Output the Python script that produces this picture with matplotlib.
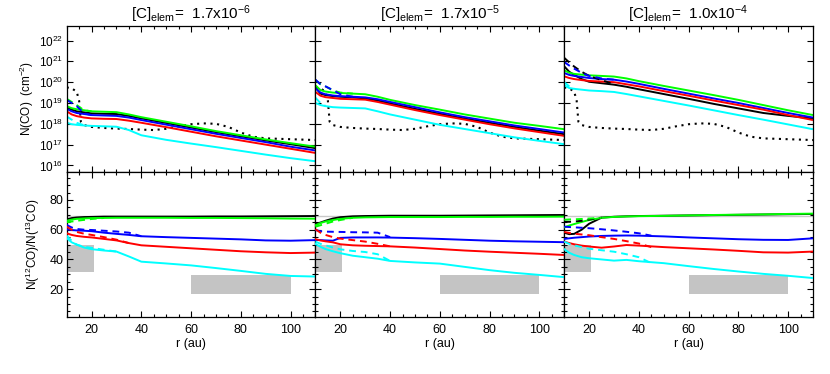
import numpy as np
import matplotlib
matplotlib.use("Agg")
import matplotlib.pyplot as plt
from matplotlib.ticker import MultipleLocator, FixedLocator, LogFormatterMathtext, NullLocator

plt.rcParams['font.family'] = ['Liberation Sans', 'DejaVu Sans']
plt.rcParams['mathtext.fontset'] = 'custom'
plt.rcParams['mathtext.rm'] = 'Liberation Sans'
plt.rcParams['mathtext.it'] = 'Liberation Sans:italic'

# ---------------- data ----------------
titles = ["[C]$_{\\rm elem}$=  1.7x10$^{-6}$",
          "[C]$_{\\rm elem}$=  1.7x10$^{-5}$",
          "[C]$_{\\rm elem}$=  1.0x10$^{-4}$"]

r = [10, 12, 14, 17, 20, 25, 30, 35, 40, 50, 60, 70, 80, 90, 100, 110]
r_dash = [10, 12, 14, 17, 20, 25, 30, 35, 40, 45]

# observed N(CO) profile (dotted), log10 cm^-2
r_obs = [10, 12, 14, 15, 15.7, 17, 20, 25, 30, 35, 40, 45, 50, 55, 60, 65, 70, 75, 80, 85, 90, 100, 110]
logn_obs = [19.75, 19.7, 19.55, 19.1, 18.1, 17.94, 17.85, 17.8, 17.77, 17.75, 17.72, 17.7, 17.76, 17.88,
            17.98, 18.02, 18.0, 17.85, 17.58, 17.38, 17.3, 17.26, 17.22]

# log10 N(CO), panel 1
logn1_black = [18.8, 18.68, 18.6, 18.55, 18.5, 18.48, 18.47, 18.38, 18.26, 18.04, 17.82, 17.6, 17.4, 17.2, 17.02, 16.83]
logn1_green = [18.85, 18.75, 18.7, 18.65, 18.6, 18.58, 18.56, 18.45, 18.32, 18.1, 17.88, 17.65, 17.45, 17.25, 17.07, 16.9]
logn1_blue = [18.72, 18.6, 18.52, 18.47, 18.42, 18.4, 18.38, 18.3, 18.18, 17.96, 17.74, 17.52, 17.32, 17.12, 16.9, 16.72]
logn1_red = [18.6, 18.45, 18.37, 18.3, 18.26, 18.24, 18.23, 18.15, 18.05, 17.84, 17.62, 17.4, 17.2, 17.0, 16.8, 16.6]
logn1_cyan = [18.05, 17.98, 17.95, 17.92, 17.9, 17.88, 17.86, 17.7, 17.45, 17.23, 17.05, 16.88, 16.7, 16.52, 16.35, 16.2]
logn1_green_d = [19.2, 19.05, 18.9, 18.65, 18.6]
logn1_blue_d = [19.15, 19.0, 18.85, 18.5, 18.42]
logn1_cyan_d = [18.35, 18.2, 18.05, 17.93]

# log10 N(CO), panel 2
logn2_black = [19.75, 19.45, 19.38, 19.33, 19.3, 19.27, 19.22, 19.12, 18.98, 18.72, 18.48, 18.25, 18.05, 17.85, 17.67, 17.5]
logn2_green = [19.85, 19.62, 19.55, 19.5, 19.48, 19.45, 19.42, 19.3, 19.15, 18.9, 18.68, 18.45, 18.25, 18.05, 17.9, 17.74]
logn2_blue = [19.7, 19.5, 19.42, 19.36, 19.33, 19.3, 19.27, 19.18, 19.05, 18.8, 18.55, 18.32, 18.12, 17.92, 17.75, 17.58]
logn2_red = [19.53, 19.35, 19.28, 19.24, 19.2, 19.18, 19.16, 19.05, 18.92, 18.66, 18.42, 18.2, 17.98, 17.78, 17.6, 17.42]
logn2_cyan = [19.0, 18.9, 18.85, 18.8, 18.78, 18.76, 18.74, 18.6, 18.45, 18.2, 17.95, 17.75, 17.55, 17.35, 17.18, 17.02]
logn2_green_d = [20.1, 19.9, 19.8, 19.6, 19.5, 19.45]
logn2_blue_d = [20.12, 19.9, 19.8, 19.62, 19.42, 19.3]
logn2_cyan_d = [19.25, 19.0, 18.86]

# log10 N(CO), panel 3
logn3_black = [20.76, 20.5, 20.35, 20.15, 20.02, 19.95, 19.88, 19.78, 19.66, 19.43, 19.2, 18.96, 18.74, 18.52, 18.38, 18.26]
logn3_green = [20.57, 20.45, 20.4, 20.36, 20.33, 20.3, 20.27, 20.18, 20.05, 19.82, 19.6, 19.38, 19.15, 18.9, 18.65, 18.42]
logn3_blue = [20.44, 20.35, 20.3, 20.25, 20.2, 20.15, 20.12, 20.03, 19.92, 19.68, 19.45, 19.22, 19.0, 18.76, 18.52, 18.3]
logn3_red = [20.28, 20.2, 20.15, 20.1, 20.06, 20.03, 20.0, 19.9, 19.8, 19.57, 19.35, 19.12, 18.9, 18.68, 18.42, 18.18]
logn3_cyan = [19.85, 19.72, 19.68, 19.64, 19.6, 19.57, 19.53, 19.43, 19.32, 19.1, 18.88, 18.65, 18.42, 18.2, 17.97, 17.74]
logn3_black_d = [21.17, 20.95, 20.75, 20.5, 20.3, 20.1, 19.9]
logn3_blue_d = [20.97, 20.8, 20.65, 20.45, 20.3, 20.18, 20.12]
logn3_cyan_d = [20.0, 19.8, 19.68]

# 12CO/13CO ratio, panel 1
rat1_black = [67.0, 67.8, 68.2, 68.5, 68.6, 68.8, 68.8, 68.8, 68.8, 68.8, 68.8, 68.9, 68.9, 69.0, 69.1, 69.2]
rat1_green = [66.0, 66.8, 67.3, 67.6, 67.8, 67.9, 68.0, 68.0, 68.0, 68.0, 67.9, 67.9, 67.8, 67.7, 67.5, 67.4]
rat1_blue = [60.3, 59.8, 59.5, 59.3, 59.0, 58.0, 57.2, 56.5, 55.6, 55.0, 54.5, 54.0, 53.5, 52.8, 52.6, 53.0]
rat1_red = [57.6, 56.5, 55.8, 55.2, 54.8, 53.8, 52.8, 51.0, 49.5, 48.5, 47.5, 46.5, 45.5, 44.8, 44.3, 44.6]
rat1_cyan = [54.3, 51.5, 50.0, 48.0, 46.9, 46.0, 45.3, 42.0, 38.5, 37.3, 36.0, 34.2, 32.3, 30.3, 28.9, 28.5]
rat1_green_d = [65.0, 65.5, 66.0, 66.6, 67.2, 67.9]
rat1_blue_d = [63.2, 61.5, 60.5, 60.0, 59.8, 59.3, 58.8, 58.0, 55.6]
rat1_red_d = [62.0, 60.0, 58.5, 57.3, 56.5, 55.0, 53.3, 51.0]
rat1_cyan_d = [56.0, 52.5, 50.0, 48.5, 47.8, 46.5, 45.3]

# 12CO/13CO ratio, panel 2
rat2_black = [63.9, 64.8, 66.0, 67.5, 68.4, 69.0, 69.2, 69.3, 69.4, 69.4, 69.4, 69.5, 69.6, 69.7, 69.8, 69.9]
rat2_green = [63.0, 64.5, 65.5, 66.5, 67.3, 68.0, 68.3, 68.4, 68.5, 68.5, 68.5, 68.6, 68.6, 68.7, 68.7, 68.8]
rat2_blue = [53.1, 53.0, 52.8, 52.6, 54.5, 54.8, 54.8, 54.8, 54.7, 54.3, 53.8, 53.2, 52.6, 52.2, 51.9, 51.6]
rat2_red = [53.6, 52.8, 52.2, 51.5, 50.2, 49.5, 49.2, 49.0, 48.8, 48.0, 47.0, 46.0, 45.2, 44.5, 43.8, 43.0]
rat2_cyan = [50.4, 48.5, 47.0, 45.5, 44.2, 42.5, 41.5, 40.5, 39.0, 38.0, 37.2, 35.0, 32.8, 31.0, 29.6, 28.1]
rat2_green_d = [62.0, 63.0, 64.0, 65.5, 66.5, 68.0]
rat2_blue_d = [59.8, 59.0, 58.7, 58.6, 58.5, 58.3, 58.2, 58.0, 55.0]
rat2_red_d = [60.3, 58.0, 56.5, 55.0, 54.0, 53.0, 52.0, 50.5, 48.8]
rat2_cyan_d = [52.0, 50.5, 49.5, 48.0, 46.8, 45.7, 45.0, 43.5, 39.0]

# 12CO/13CO ratio, panel 3
rat3_black = [58.0, 57.0, 57.2, 60.0, 64.0, 68.1, 68.7, 69.0, 69.2, 69.4, 69.6, 69.8, 70.0, 70.2, 70.4, 70.6]
rat3_green = [61.6, 62.8, 63.8, 65.2, 66.5, 68.0, 68.6, 68.9, 69.1, 69.3, 69.6, 69.9, 70.1, 70.3, 70.6, 70.8]
rat3_blue = [53.8, 54.2, 54.6, 55.0, 55.4, 55.8, 56.0, 56.1, 56.0, 55.5, 54.8, 54.2, 53.6, 53.2, 53.1, 54.2]
rat3_red = [52.0, 51.0, 50.2, 49.3, 48.7, 47.9, 48.7, 49.7, 49.3, 48.3, 47.5, 46.7, 45.8, 44.8, 44.6, 45.3]
rat3_cyan = [46.9, 44.5, 43.0, 41.5, 40.8, 40.0, 39.2, 39.7, 38.8, 37.5, 35.5, 33.6, 31.9, 30.3, 29.0, 27.5]
rat3_black_d = [65.4, 65.3, 65.5, 66.0, 66.8, 68.1]
rat3_green_d = [66.7, 66.9, 67.0, 67.2, 67.5, 68.0]
rat3_blue_d = [62.0, 61.8, 61.6, 61.3, 61.0, 60.3, 59.5, 58.6, 57.6, 56.0]
rat3_red_d = [58.5, 57.8, 57.3, 56.8, 56.3, 55.0, 53.8, 52.3, 50.7, 48.3]
rat3_cyan_d = [52.0, 50.5, 49.5, 48.3, 47.2, 46.2, 45.2, 43.5, 41.5, 37.5]

# observational constraint boxes (r_min, r_max, ratio_min, ratio_max)
box_inner = (10, 20.8, 31.6, 49.5)
box_outer = (60, 100, 16.8, 29.5)
ism_ratio = 69

colors = {'black': 'black', 'green': '#00ff00', 'blue': '#0000ff', 'red': '#ff0000', 'cyan': '#00ffff'}
order = ['black', 'green', 'blue', 'red', 'cyan']

top_solid = [
    [logn1_black, logn1_green, logn1_blue, logn1_red, logn1_cyan],
    [logn2_black, logn2_green, logn2_blue, logn2_red, logn2_cyan],
    [logn3_black, logn3_green, logn3_blue, logn3_red, logn3_cyan],
]
top_dash = [
    [('green', logn1_green_d), ('blue', logn1_blue_d), ('cyan', logn1_cyan_d)],
    [('green', logn2_green_d), ('blue', logn2_blue_d), ('cyan', logn2_cyan_d)],
    [('black', logn3_black_d), ('blue', logn3_blue_d), ('cyan', logn3_cyan_d)],
]
bot_solid = [
    [rat1_black, rat1_green, rat1_blue, rat1_red, rat1_cyan],
    [rat2_black, rat2_green, rat2_blue, rat2_red, rat2_cyan],
    [rat3_black, rat3_green, rat3_blue, rat3_red, rat3_cyan],
]
bot_dash = [
    [('green', rat1_green_d), ('blue', rat1_blue_d), ('red', rat1_red_d), ('cyan', rat1_cyan_d)],
    [('green', rat2_green_d), ('blue', rat2_blue_d), ('red', rat2_red_d), ('cyan', rat2_cyan_d)],
    [('black', rat3_black_d), ('green', rat3_green_d), ('blue', rat3_blue_d), ('red', rat3_red_d), ('cyan', rat3_cyan_d)],
]

# ---------------- figure ----------------
fig = plt.figure(figsize=(8.3, 3.74), dpi=100)
L, R_, T, M, B = 66.7 / 830, 813 / 830, 1 - 26 / 374, 1 - 171.7 / 374, 1 - 316.7 / 374
W = (R_ - L) / 3
lw = 1.4

def style_axis(ax):
    ax.tick_params(which='both', direction='in', top=True, right=True, width=0.8)
    ax.tick_params(which='major', length=4.5)
    ax.tick_params(which='minor', length=2.5)
    ax.tick_params(axis='x', labelsize=9, pad=5.5)
    ax.tick_params(axis='y', pad=2.5)
    for s in ax.spines.values():
        s.set_linewidth(0.9)

for p in range(3):
    x0 = L + p * W
    axt = fig.add_axes([x0, M, W, T - M])
    axb = fig.add_axes([x0, B, W, M - B])

    # top: N(CO)
    axt.plot(r_obs, 10 ** np.array(logn_obs), color='black', ls=(0, (1, 2.2)), lw=1.5)
    for name, vals in zip(order, top_solid[p]):
        axt.plot(r, 10 ** np.array(vals), color=colors[name], lw=lw, solid_capstyle='butt')
    for name, vals in top_dash[p]:
        axt.plot(r_dash[:len(vals)], 10 ** np.array(vals), color=colors[name], lw=lw,
                 ls=(0, (3.5, 2.5)))
    axt.set_yscale('log')
    axt.set_ylim(5e15, 5e22)
    axt.set_xlim(10, 110)
    axt.yaxis.set_major_locator(FixedLocator([10.0 ** k for k in range(16, 23)]))
    axt.yaxis.set_minor_locator(NullLocator())
    axt.yaxis.set_major_formatter(LogFormatterMathtext())
    axt.xaxis.set_major_locator(MultipleLocator(20))
    axt.xaxis.set_minor_locator(MultipleLocator(5))
    axt.set_xticklabels([])
    style_axis(axt)
    axt.tick_params(axis='y', labelsize=8.5)
    axt.set_title(titles[p], fontsize=11, pad=5)

    # bottom: ratio
    axb.axhline(ism_ratio, color='#c8c8c8', lw=1.0, zorder=1)
    for bx in (box_inner, box_outer):
        axb.fill_between([bx[0], bx[1]], bx[2], bx[3], color='#c4c4c4', lw=0, zorder=1)
    for name, vals in zip(order, bot_solid[p]):
        axb.plot(r, vals, color=colors[name], lw=lw, zorder=3)
    for name, vals in bot_dash[p]:
        axb.plot(r_dash[:len(vals)], vals, color=colors[name], lw=lw, ls=(0, (3.5, 2.5)), zorder=3)
    axb.set_xlim(10, 110)
    axb.set_ylim(1.5, 99)
    axb.xaxis.set_major_locator(MultipleLocator(20))
    axb.xaxis.set_minor_locator(MultipleLocator(5))
    axb.yaxis.set_major_locator(FixedLocator([20, 40, 60, 80]))
    axb.yaxis.set_minor_locator(MultipleLocator(5))
    style_axis(axb)
    axb.tick_params(axis='y', labelsize=9)
    axb.set_xlabel('r (au)', fontsize=9, labelpad=1)

    if p == 0:
        axt.set_ylabel('N(CO)  (cm$^{-2}$)', fontsize=8.5, labelpad=2)
        axb.set_ylabel('N($^{12}$CO)/N($^{13}$CO)', fontsize=8.5, labelpad=5)
    else:
        axt.set_yticklabels([])
        axb.set_yticklabels([])

fig.savefig('out.png', dpi=100)
